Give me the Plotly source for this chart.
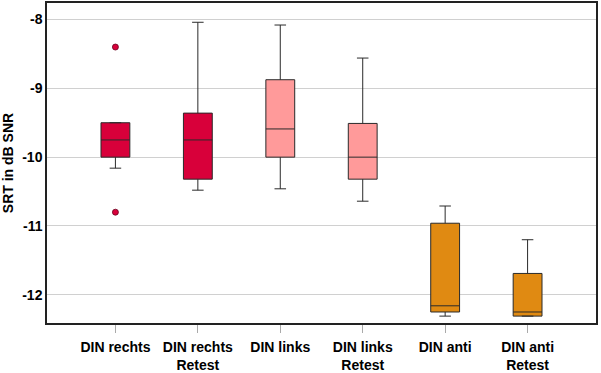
import plotly.graph_objects as go

categories = ["DIN rechts", "DIN rechts<br>Retest", "DIN links", "DIN links<br>Retest", "DIN anti", "DIN anti<br>Retest"]
lower_whisker = [-10.16, -10.48, -10.46, -10.64, -12.31, -12.31]
q1_values = [-10.00, -10.32, -10.00, -10.32, -12.25, -12.31]
medians = [-9.75, -9.75, -9.59, -10.00, -12.16, -12.25]
q3_values = [-9.50, -9.36, -8.875, -9.51, -10.96, -11.69]
upper_whisker = [-9.50, -8.04, -8.08, -8.56, -10.71, -11.20]
fill_colors = ["#D8003A", "#D8003A", "#FF9A9A", "#FF9A9A", "#E08A12", "#E08A12"]
outlier_category = ["DIN rechts", "DIN rechts"]
outlier_values = [-8.40, -10.80]
y_ticks = [-8, -9, -10, -11, -12]

fig = go.Figure()
for i, cat in enumerate(categories):
    fig.add_trace(go.Box(
        x=[cat], q1=[q1_values[i]], median=[medians[i]], q3=[q3_values[i]],
        lowerfence=[lower_whisker[i]], upperfence=[upper_whisker[i]],
        fillcolor=fill_colors[i], line=dict(color="#2a2a2a", width=1),
        width=0.35, whiskerwidth=0.4, boxpoints=False, showlegend=False,
        hoverinfo="skip",
    ))

fig.add_trace(go.Scatter(
    x=outlier_category, y=outlier_values, mode="markers",
    marker=dict(color="#D8003A", size=6, line=dict(color="#6a0020", width=0.8)),
    showlegend=False, hoverinfo="skip",
))

font_family = "Arial, Liberation Sans, sans-serif"
fig.update_layout(
    width=601, height=373,
    margin=dict(l=47, r=5, t=3, b=50, autoexpand=False),
    paper_bgcolor="white", plot_bgcolor="white",
    font=dict(family=font_family, color="black"),
    boxmode="overlay",
)
fig.update_xaxes(
    type="category", categoryorder="array", categoryarray=categories,
    range=[-0.83, 5.83], automargin=False,
    showline=True, linecolor="#222", linewidth=1.5, mirror=True,
    ticks="outside", ticklen=8, tickcolor="#aaaaaa", tickwidth=1,
    ticklabelstandoff=2,
    tickfont=dict(size=14, family=font_family, weight="bold"),
    showgrid=False,
)
fig.update_yaxes(
    range=[-12.41, -7.76], automargin=False,
    tickvals=y_ticks, ticktext=[str(v) for v in y_ticks],
    showline=True, linecolor="#222", linewidth=1.5, mirror=True,
    showgrid=True, gridcolor="#d0d0d0", gridwidth=1,
    zeroline=False, ticks="",
    tickfont=dict(size=14, family=font_family, weight="bold"),
    title=dict(text="SRT in dB SNR", font=dict(size=14, family=font_family, weight="bold"), standoff=6),
)

fig.write_html("out.html", config={"displayModeBar": False},
               post_script="document.body.style.margin='0';")
